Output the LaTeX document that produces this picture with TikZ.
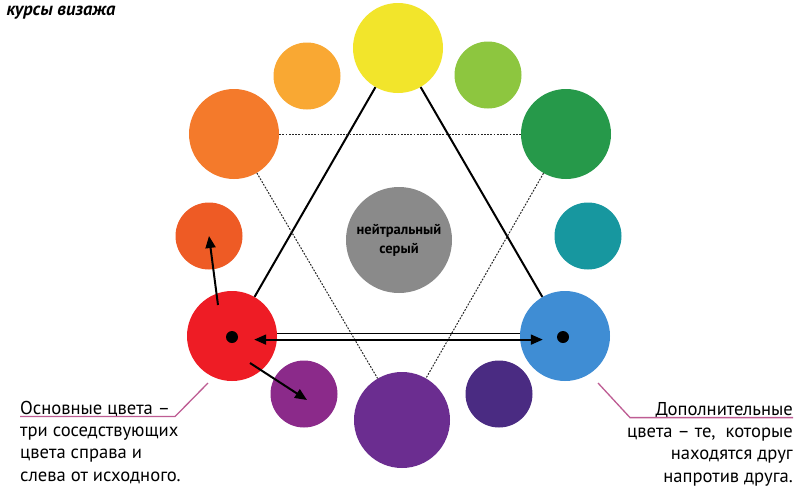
\documentclass[tikz,border=0pt]{standalone}
\usepackage{fontspec}
\setmainfont{PT Sans}
\usetikzlibrary{positioning,arrows.meta}

\definecolor{cyellow}{HTML}{F2E52B}
\definecolor{cyelorange}{HTML}{F9A833}
\definecolor{corange}{HTML}{F47A2B}
\definecolor{credorange}{HTML}{EE5B25}
\definecolor{cred}{HTML}{EE1C25}
\definecolor{credviolet}{HTML}{8B2A8A}
\definecolor{cviolet}{HTML}{6B2D90}
\definecolor{cblueviolet}{HTML}{4A2B82}
\definecolor{cblue}{HTML}{3F8DD4}
\definecolor{cteal}{HTML}{17979F}
\definecolor{cgreen}{HTML}{26994A}
\definecolor{cyelgreen}{HTML}{8DC63F}
\definecolor{cgray}{HTML}{8A8A8A}
\definecolor{cpink}{HTML}{BE5C93}

\begin{document}
\begin{tikzpicture}[
    x=1pt, y=-1pt,
    big/.style={circle, minimum size=90pt, inner sep=0pt},
    small/.style={circle, minimum size=67pt, inner sep=0pt},
    dot/.style={circle, fill=black, minimum size=12pt, inner sep=0pt},
    link/.style={line width=2pt},
    dashlink/.style={line width=1pt, black!85, dash pattern=on 1.8pt off 1.4pt},
    arrow/.style={-{Triangle[length=12pt,width=10pt]}, line width=2pt},
    callout/.style={draw=cpink, line width=1.3pt},
    note/.style={font=\fontsize{18.6}{22.5}\selectfont, inner sep=0pt},
]
\fill[white] (0,0) rectangle (809,493);
\useasboundingbox (0,0) rectangle (809,493);

% Colour wheel
\node[big, fill=cyellow] (yellow) at (398,48) {};
\node[small, fill=cyelorange] (yelorange) at (307,76) {};
\node[big, fill=corange] (orange) at (234,134) {};
\node[small, fill=credorange] (redorange) at (209,236) {};
\node[big, fill=cred] (red) at (232,336) {};
\node[small, fill=credviolet] (redviolet) at (304,394) {};
\node[big, minimum size=96pt, fill=cviolet] (violet) at (402,420) {};
\node[small, fill=cblueviolet] (blueviolet) at (499,394) {};
\node[big, fill=cblue] (blue) at (565,336) {};
\node[small, fill=cteal] (teal) at (588,236) {};
\node[big, fill=cgreen] (green) at (566,134) {};
\node[small, fill=cyelgreen] (yelgreen) at (488,75) {};
\node[circle, minimum size=106pt, inner sep=0pt, fill=cgray, align=center,
      font=\bfseries\fontsize{14.5}{19}\selectfont] (gray) at (399,240) {нейтральный\\серый};

% Triangles
\draw[link] (yellow) -- (red);
\draw[link] (yellow) -- (blue);
\draw[dashlink] (orange) -- (green);
\draw[dashlink] (orange) -- (violet);
\draw[dashlink] (green) -- (violet);

% Dots and arrows
\node[dot] (reddot) at (232,337) {};
\node[dot] (bluedot) at (563,337) {};
\draw[line width=1.8pt] ([yshift=2.6pt]red.east) -- ([yshift=2.6pt]blue.west);
\draw[line width=1.8pt, {Triangle[length=12pt,width=10pt]}-{Triangle[length=12pt,width=10pt]}, shorten <=16pt, shorten >=14pt]
    ([yshift=-2.6pt]reddot.east) -- ([yshift=-2.6pt]bluedot.west);
\draw[arrow] ([shift={(-14,-31)}]red.center) -- (redorange.center);
\draw[arrow] ([shift={(18,27)}]red.center) -- ([shift={(3,6)}]redviolet.center);

% Labels
\node[anchor=base west, font=\bfseries\itshape\fontsize{18.5}{20}\selectfont] (title) at (3,15) {курсы визажа};

\node[note, anchor=base west] (lhead) at (20,414) {Основные цвета –};
\node[note, anchor=north west, align=left] (lbody) at ([yshift=-10pt]lhead.south west)
    {три соседствующих\\цвета справа и\\слева от исходного.};
\node[note, anchor=base east] (rhead) at (793,415) {Дополнительные};
\node[note, anchor=north east, align=right] (rbody) at ([yshift=-10pt]rhead.south east)
    {цвета – те,~ которые\\находятся друг\\напротив друга.};

\coordinate (lend) at (208,383);
\coordinate (rend) at (598,383);
\draw[callout] (lhead.south west) -- ++(155,0) -- (lend);
\draw[callout] (rhead.south east) -- ++(-163,0) -- (rend);
\end{tikzpicture}
\end{document}
